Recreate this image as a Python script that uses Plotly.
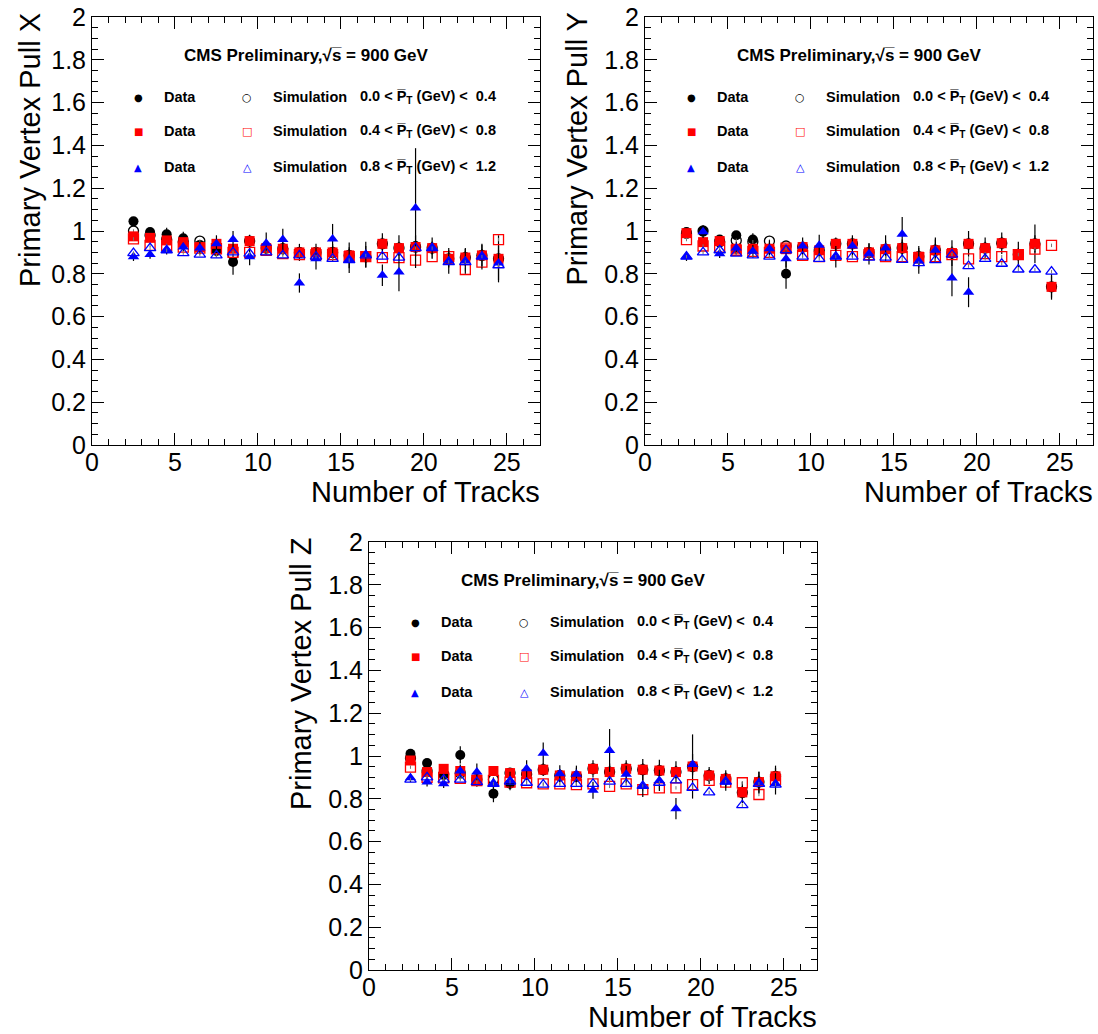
import plotly.graph_objects as go

W, H = 1098, 1034
bins = [2.5 + i for i in range(23)]

# ---------------- Panel X ----------------
x_dat_k = [1.045, 0.995, 0.985, 0.966, 0.935, 0.907, 0.855, 0.953, 0.92, 0.917, 0.90, 0.90, 0.90, 0.886, 0.88, 0.94, 0.92, 0.93, 0.92, 0.87, 0.876, 0.886, 0.87]
x_sim_k = [1.00, 0.98, 0.96, 0.95, 0.953, 0.92, 0.89, 0.953, 0.92, 0.917, 0.90, 0.90, 0.90, 0.886, 0.88, 0.94, 0.92, 0.925, 0.92, 0.87, 0.876, 0.886, 0.87]
x_dat_r = [0.975, 0.968, 0.956, 0.948, 0.925, 0.94, 0.917, 0.953, 0.92, 0.917, 0.90, 0.90, 0.90, 0.886, 0.88, 0.94, 0.92, 0.925, 0.92, 0.87, 0.876, 0.886, 0.87]
x_sim_r = [0.963, 0.933, 0.933, 0.925, 0.92, 0.917, 0.90, 0.90, 0.91, 0.894, 0.89, 0.89, 0.89, 0.88, 0.88, 0.876, 0.876, 0.864, 0.88, 0.88, 0.82, 0.855, 0.96]
x_dat_b = [0.88, 0.89, 0.91, 0.925, 0.92, 0.94, 0.96, 0.88, 0.943, 0.96, 0.757, 0.87, 0.963, 0.864, 0.89, 0.793, 0.808, 1.107, 0.92, 0.86, 0.86, 0.88, 0.85]
x_sim_b = [0.897, 0.92, 0.91, 0.897, 0.89, 0.886, 0.90, 0.894, 0.90, 0.886, 0.886, 0.88, 0.87, 0.864, 0.886, 0.88, 0.876, 0.92, 0.92, 0.855, 0.855, 0.88, 0.84]
x_err_k = [0.01, 0.015, 0.03, 0.03, 0.02, 0.03, 0.06, 0.03, 0.03, 0.03, 0.04, 0.04, 0.04, 0.06, 0.05, 0.05, 0.06, 0.05, 0.03, 0.04, 0.04, 0.05, 0.11]
x_err_r = [0.01, 0.01, 0.01, 0.01, 0.015, 0.015, 0.02, 0.02, 0.02, 0.02, 0.02, 0.02, 0.03, 0.03, 0.03, 0.03, 0.03, 0.03, 0.03, 0.03, 0.03, 0.03, 0.04]
x_err_b = [0.02, 0.02, 0.02, 0.02, 0.03, 0.04, 0.04, 0.04, 0.05, 0.05, 0.045, 0.05, 0.07, 0.06, 0.06, 0.05, 0.09, 0.28, 0.05, 0.06, 0.06, 0.06, 0.08]

# ---------------- Panel Y ----------------
y_dat_k = [0.995, 1.00, 0.96, 0.98, 0.96, 0.917, 0.80, 0.925, 0.91, 0.94, 0.94, 0.90, 0.915, 0.92, 0.88, 0.91, 0.897, 0.94, 0.92, 0.943, 0.89, 0.94, 0.739]
y_sim_k = [0.99, 1.00, 0.95, 0.956, 0.95, 0.953, 0.93, 0.925, 0.91, 0.94, 0.94, 0.90, 0.915, 0.92, 0.88, 0.91, 0.897, 0.94, 0.92, 0.943, 0.89, 0.94, 0.739]
y_dat_r = [0.99, 0.948, 0.953, 0.917, 0.917, 0.917, 0.915, 0.925, 0.91, 0.94, 0.94, 0.90, 0.915, 0.92, 0.88, 0.91, 0.897, 0.94, 0.92, 0.943, 0.89, 0.94, 0.739]
y_sim_r = [0.96, 0.93, 0.925, 0.91, 0.905, 0.90, 0.92, 0.886, 0.88, 0.886, 0.88, 0.89, 0.88, 0.88, 0.875, 0.88, 0.89, 0.87, 0.894, 0.88, 0.89, 0.915, 0.933]
y_dat_b = [0.88, 0.997, 0.894, 0.92, 0.905, 0.917, 0.87, 0.93, 0.933, 0.88, 0.93, 0.894, 0.92, 0.985, 0.86, 0.91, 0.78, 0.714, None, None, None, None, None]
y_sim_b = [0.88, 0.90, 0.91, 0.894, 0.886, 0.88, 0.91, 0.88, 0.87, 0.88, 0.88, 0.876, 0.876, 0.865, 0.85, 0.864, 0.89, 0.836, 0.87, 0.847, 0.82, 0.82, 0.81]
y_err_k = [0.01, 0.02, 0.015, 0.02, 0.03, 0.03, 0.07, 0.03, 0.03, 0.03, 0.03, 0.04, 0.04, 0.04, 0.05, 0.05, 0.06, 0.06, 0.05, 0.05, 0.06, 0.09, 0.06]
y_err_r = [0.01, 0.01, 0.01, 0.015, 0.015, 0.015, 0.02, 0.02, 0.02, 0.02, 0.02, 0.02, 0.03, 0.03, 0.03, 0.03, 0.03, 0.03, 0.03, 0.03, 0.03, 0.04, 0.05]
y_err_b = [0.02, 0.03, 0.02, 0.03, 0.03, 0.04, 0.04, 0.04, 0.05, 0.05, 0.05, 0.05, 0.06, 0.08, 0.06, 0.06, 0.085, 0.07, 0.05, 0.05, 0.05, 0.05, 0.05]

# ---------------- Panel Z ----------------
z_dat_k = [1.01, 0.967, 0.915, 1.005, 0.886, 0.824, 0.87, 0.915, 0.936, 0.909, 0.905, 0.94, 0.925, 0.94, 0.936, 0.932, 0.925, 0.951, 0.909, 0.893, 0.83, 0.878, 0.905]
z_sim_k = [0.99, 0.93, 0.915, 0.92, 0.89, 0.89, 0.92, 0.915, 0.936, 0.909, 0.905, 0.94, 0.925, 0.94, 0.936, 0.932, 0.925, 0.951, 0.909, 0.893, 0.83, 0.878, 0.905]
z_dat_r = [0.979, 0.925, 0.94, 0.93, 0.89, 0.93, 0.92, 0.915, 0.936, 0.909, 0.905, 0.94, 0.925, 0.94, 0.936, 0.932, 0.925, 0.951, 0.909, 0.893, 0.83, 0.878, 0.905]
z_sim_r = [0.948, 0.90, 0.898, 0.895, 0.885, 0.886, 0.878, 0.875, 0.87, 0.87, 0.866, 0.87, 0.858, 0.87, 0.843, 0.851, 0.851, 0.866, 0.886, 0.878, 0.875, 0.82, 0.89]
z_dat_b = [0.898, 0.878, 0.87, 0.93, 0.925, 0.87, 0.886, 0.94, 1.013, 0.917, 0.915, 0.84, 1.026, 0.915, 0.858, 0.886, 0.754, 0.96, None, 0.878, None, 0.875, 0.87]
z_sim_b = [0.89, 0.90, 0.89, 0.89, 0.878, 0.87, 0.88, 0.875, 0.866, 0.87, 0.87, 0.87, 0.88, 0.87, 0.86, 0.875, 0.886, 0.851, 0.83, 0.88, 0.77, 0.87, 0.866]
z_err_k = [0.01, 0.01, 0.02, 0.04, 0.03, 0.04, 0.03, 0.03, 0.03, 0.03, 0.04, 0.04, 0.04, 0.04, 0.05, 0.05, 0.05, 0.15, 0.04, 0.04, 0.05, 0.05, 0.05]
z_err_r = [0.01, 0.01, 0.01, 0.015, 0.015, 0.015, 0.02, 0.02, 0.02, 0.02, 0.02, 0.02, 0.03, 0.03, 0.03, 0.03, 0.03, 0.03, 0.03, 0.03, 0.03, 0.03, 0.04]
z_err_b = [0.02, 0.02, 0.02, 0.03, 0.04, 0.03, 0.04, 0.04, 0.05, 0.04, 0.04, 0.04, 0.1, 0.04, 0.05, 0.05, 0.05, 0.05, 0.05, 0.04, 0.05, 0.05, 0.05]

sim_err = [0.008] * 23

pt_ranges = [("0.0", "0.4"), ("0.4", "0.8"), ("0.8", "1.2")]

panels = [
    dict(name="X", x0=92, y0=17, y1=445, toff=62,
         series=[x_dat_k, x_sim_k, x_dat_r, x_sim_r, x_dat_b, x_sim_b],
         errs=[x_err_k, x_err_r, x_err_b]),
    dict(name="Y", x0=645, y0=17, y1=445, toff=68,
         series=[y_dat_k, y_sim_k, y_dat_r, y_sim_r, y_dat_b, y_sim_b],
         errs=[y_err_k, y_err_r, y_err_b]),
    dict(name="Z", x0=369, y0=542, y1=970, toff=68,
         series=[z_dat_k, z_sim_k, z_dat_r, z_sim_r, z_dat_b, z_sim_b],
         errs=[z_err_k, z_err_r, z_err_b]),
]
PW = 448
FONT = "Liberation Sans, Arial, Helvetica, sans-serif"

colors = ["black", "#ff0000", "#0000ff"]
filled = ["circle", "square", "triangle-up"]
opened = ["circle-open", "square-open", "triangle-up-open"]

fig = go.Figure()
annotations = []
layout = {}

def px(x):
    return x / W

def py(y):
    return 1 - y / H

for i, p in enumerate(panels):
    sfx = "" if i == 0 else str(i + 1)
    xa, ya = "x" + sfx, "y" + sfx
    for c in range(3):
        dat = p["series"][2 * c]
        sim = p["series"][2 * c + 1]
        fig.add_trace(go.Scatter(
            x=bins, y=dat, mode="markers", xaxis=xa, yaxis=ya, showlegend=False,
            marker=dict(symbol=filled[c], color=colors[c], size=10, line=dict(width=0)),
            error_y=dict(type="data", array=p["errs"][c], color="black", thickness=1.2, width=0)))
        fig.add_trace(go.Scatter(
            x=bins, y=sim, mode="markers", xaxis=xa, yaxis=ya, showlegend=False,
            marker=dict(symbol=opened[c], color=colors[c], size=10, line=dict(width=1.3, color=colors[c])),
            error_y=dict(type="data", array=sim_err, color="#777777", thickness=1, width=0)))

    common = dict(showline=True, linecolor="black", linewidth=1, mirror="ticks",
                  ticks="inside", tickcolor="black", showgrid=False, zeroline=False,
                  automargin=False,
                  tickfont=dict(family=FONT, size=25, color="black"))
    layout["xaxis" + sfx] = dict(
        domain=[px(p["x0"]), px(p["x0"] + PW)], anchor=ya, range=[0, 27],
        tick0=0, dtick=5, ticklen=12, ticklabelstandoff=-5,
        minor=dict(dtick=1, ticks="inside", ticklen=6, tickcolor="black", showgrid=False),
        **common)
    layout["yaxis" + sfx] = dict(
        domain=[py(p["y1"]), py(p["y0"])], anchor=xa, range=[0, 2],
        tick0=0, dtick=0.2, ticklen=12,
        minor=dict(dtick=0.05, ticks="inside", ticklen=6, tickcolor="black", showgrid=False),
        **common)

    x0, y0, y1 = p["x0"], p["y0"], p["y1"]
    # axis titles
    annotations.append(dict(xref="paper", yref="paper", x=px(x0 - p["toff"]), y=py(y0 - 6),
                            xanchor="center", yanchor="top", textangle=-90, showarrow=False,
                            text="Primary Vertex Pull " + p["name"],
                            font=dict(family=FONT, size=29, color="black")))
    annotations.append(dict(xref="paper", yref="paper", x=px(x0 + PW + 2), y=py(y1 + 47),
                            xanchor="right", yanchor="middle", showarrow=False,
                            text="Number of Tracks",
                            font=dict(family=FONT, size=29, color="black")))
    # header
    annotations.append(dict(xref="paper", yref="paper", x=px(x0 + 214), y=py(y0 + 38),
                            xanchor="center", yanchor="middle", showarrow=False,
                            text="<b>CMS Preliminary,\u221As\u0305 = 900 GeV</b>",
                            font=dict(family=FONT, size=17, color="black")))
    rows = [80, 114, 150]
    sym_f = ["\u25CF", "\u25A0", "\u25B2"]
    sym_o = ["\u25CB", "\u25A1", "\u25B3"]
    for c in range(3):
        yy = py(y0 + rows[c])
        annotations.append(dict(xref="paper", yref="paper", x=px(x0 + 46), y=yy,
                                xanchor="center", yanchor="middle", showarrow=False,
                                text=sym_f[c], font=dict(family="DejaVu Sans", size=10, color=colors[c])))
        annotations.append(dict(xref="paper", yref="paper", x=px(x0 + 70), y=yy,
                                xanchor="left", yanchor="middle", showarrow=False,
                                text="<b>Data</b>", font=dict(family=FONT, size=14.5, color="black")))
        annotations.append(dict(xref="paper", yref="paper", x=px(x0 + 155), y=yy,
                                xanchor="center", yanchor="middle", showarrow=False,
                                text=sym_o[c], font=dict(family="DejaVu Sans", size=11, color=colors[c])))
        annotations.append(dict(xref="paper", yref="paper", x=px(x0 + 179), y=yy,
                                xanchor="left", yanchor="middle", showarrow=False,
                                text="<b>Simulation</b>", font=dict(family=FONT, size=14.5, color="black")))
        lo, hi = pt_ranges[c]
        annotations.append(dict(xref="paper", yref="paper", x=px(x0 + 266), y=yy,
                                xanchor="left", yanchor="middle", showarrow=False,
                                text="<b>" + lo + " &lt; P\u0305<sub>T</sub> (GeV) &lt; \u00a0" + hi + "</b>",
                                font=dict(family=FONT, size=14.5, color="black")))

fig.update_layout(
    width=W, height=H, autosize=False,
    margin=dict(l=0, r=0, t=0, b=0, pad=0),
    paper_bgcolor="white", plot_bgcolor="white",
    annotations=annotations,
    **layout)

fig.write_html("out.html")
